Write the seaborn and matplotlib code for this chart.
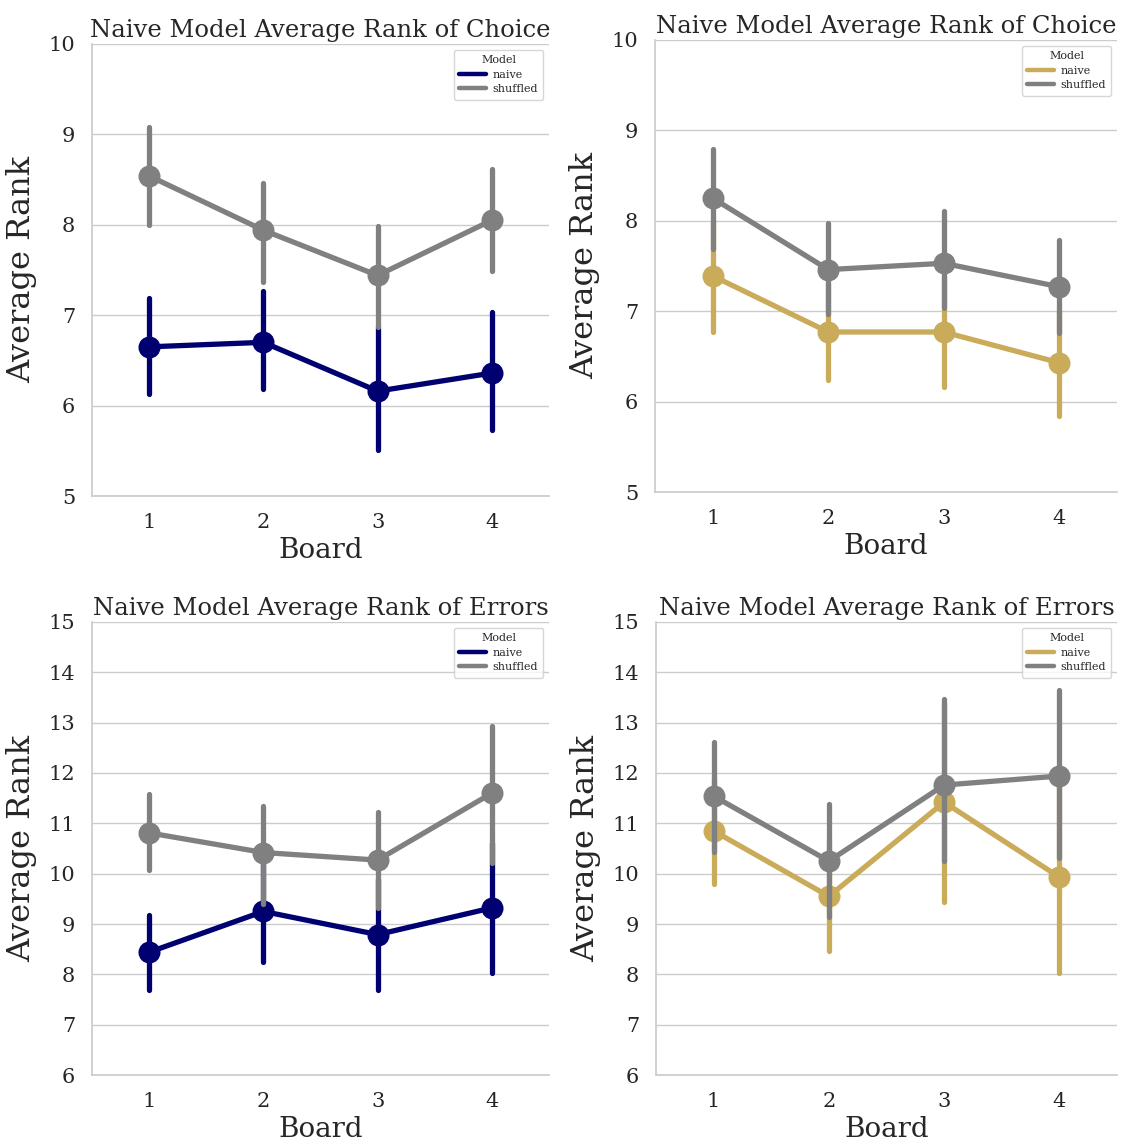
import numpy as np
import pandas as pd
import seaborn as sns
import matplotlib.pyplot as plt
from matplotlib.lines import Line2D

sns.set_theme(style="whitegrid")
plt.rcParams["font.family"] = ["DejaVu Serif"]

boards = ["1", "2", "3", "4"]
models = ["naive", "shuffled"]

# Point estimate and the low / high ends of each confidence interval, per board.
choice_a_naive_mid = [6.65, 6.70, 6.16, 6.36]
choice_a_naive_lo = [6.13, 6.18, 5.51, 5.73]
choice_a_naive_hi = [7.19, 7.27, 6.87, 7.04]
choice_a_shuf_mid = [8.54, 7.94, 7.44, 8.05]
choice_a_shuf_lo = [8.00, 7.37, 6.87, 7.49]
choice_a_shuf_hi = [9.08, 8.46, 7.99, 8.62]

choice_b_naive_mid = [7.39, 6.77, 6.77, 6.43]
choice_b_naive_lo = [6.77, 6.24, 6.16, 5.84]
choice_b_naive_hi = [8.01, 7.30, 7.38, 7.00]
choice_b_shuf_mid = [8.25, 7.46, 7.53, 7.27]
choice_b_shuf_lo = [7.69, 6.97, 7.03, 6.76]
choice_b_shuf_hi = [8.79, 7.98, 8.11, 7.79]

errors_a_naive_mid = [8.44, 9.25, 8.79, 9.32]
errors_a_naive_lo = [7.69, 8.25, 7.68, 8.03]
errors_a_naive_hi = [9.18, 10.25, 9.90, 10.61]
errors_a_shuf_mid = [10.81, 10.42, 10.27, 11.60]
errors_a_shuf_lo = [10.07, 9.39, 9.32, 10.22]
errors_a_shuf_hi = [11.59, 11.35, 11.23, 12.94]

errors_b_naive_mid = [10.85, 9.55, 11.42, 9.93]
errors_b_naive_lo = [9.79, 8.46, 9.43, 8.03]
errors_b_naive_hi = [11.91, 10.64, 13.40, 11.83]
errors_b_shuf_mid = [11.54, 10.25, 11.76, 11.94]
errors_b_shuf_lo = [10.43, 9.14, 10.25, 10.32]
errors_b_shuf_hi = [12.62, 11.38, 13.46, 13.64]

navy = "#000070"
gold = "#C9AB5A"
grey = "#808080"


def long_frame(naive, shuf):
    """Three rows (low, mid, high) per board and model; median + full range
    of those rows reproduce the estimate and its interval."""
    rows = []
    for name, (mid, lo, hi) in zip(models, [naive, shuf]):
        for i, b in enumerate(boards):
            for v in (lo[i], mid[i], hi[i]):
                rows.append({"Board": b, "Average Rank": v, "Model": name})
    return pd.DataFrame(rows)


panels = [
    ("Naive Model Average Rank of Choice",
     (choice_a_naive_mid, choice_a_naive_lo, choice_a_naive_hi),
     (choice_a_shuf_mid, choice_a_shuf_lo, choice_a_shuf_hi),
     navy, (5, 10), [0.0818, 0.5668, 0.4062, 0.3948]),
    ("Naive Model Average Rank of Choice",
     (choice_b_naive_mid, choice_b_naive_lo, choice_b_naive_hi),
     (choice_b_shuf_mid, choice_b_shuf_lo, choice_b_shuf_hi),
     gold, (5, 10), [0.5822, 0.5703, 0.4107, 0.3948]),
    ("Naive Model Average Rank of Errors",
     (errors_a_naive_mid, errors_a_naive_lo, errors_a_naive_hi),
     (errors_a_shuf_mid, errors_a_shuf_lo, errors_a_shuf_hi),
     navy, (6, 15), [0.0818, 0.0611, 0.4062, 0.3957]),
    ("Naive Model Average Rank of Errors",
     (errors_b_naive_mid, errors_b_naive_lo, errors_b_naive_hi),
     (errors_b_shuf_mid, errors_b_shuf_lo, errors_b_shuf_hi),
     gold, (6, 15), [0.5831, 0.0611, 0.4098, 0.3957]),
]

fig = plt.figure(figsize=(11.25, 11.45), dpi=100)

for title, naive, shuf, col, ylim, pos in panels:
    ax = fig.add_axes(pos)
    df = long_frame(naive, shuf)
    pal = {"naive": col, "shuffled": grey}
    sns.pointplot(
        data=df, x="Board", y="Average Rank", hue="Model",
        order=boards, hue_order=models, palette=pal,
        estimator="median", errorbar=("pi", 100),
        markersize=13, linewidth=3.8,
        err_kws={"linewidth": 3.8}, ax=ax,
    )
    ax.set_ylim(*ylim)
    ax.set_yticks(np.arange(ylim[0], ylim[1] + 1, 1))
    ax.set_xlim(-0.5, 3.5)
    ax.set_title(title, fontsize=17.5, pad=5)
    ax.set_xlabel("Board", fontsize=20, labelpad=4)
    ax.set_ylabel("Average Rank", fontsize=23, labelpad=8)
    ax.tick_params(axis="both", labelsize=15, pad=6)
    sns.despine(ax=ax)
    for side in ("left", "bottom"):
        ax.spines[side].set_color("#cccccc")
    handles = [Line2D([], [], color=pal[m], lw=3.2) for m in models]
    leg = ax.legend(handles, models, title="Model", loc="upper right",
                    fontsize=8, title_fontsize=8, handlelength=2.4,
                    handletextpad=0.6, borderpad=0.5, labelspacing=0.4,
                    frameon=True)

fig.savefig("out.png", dpi=100)
